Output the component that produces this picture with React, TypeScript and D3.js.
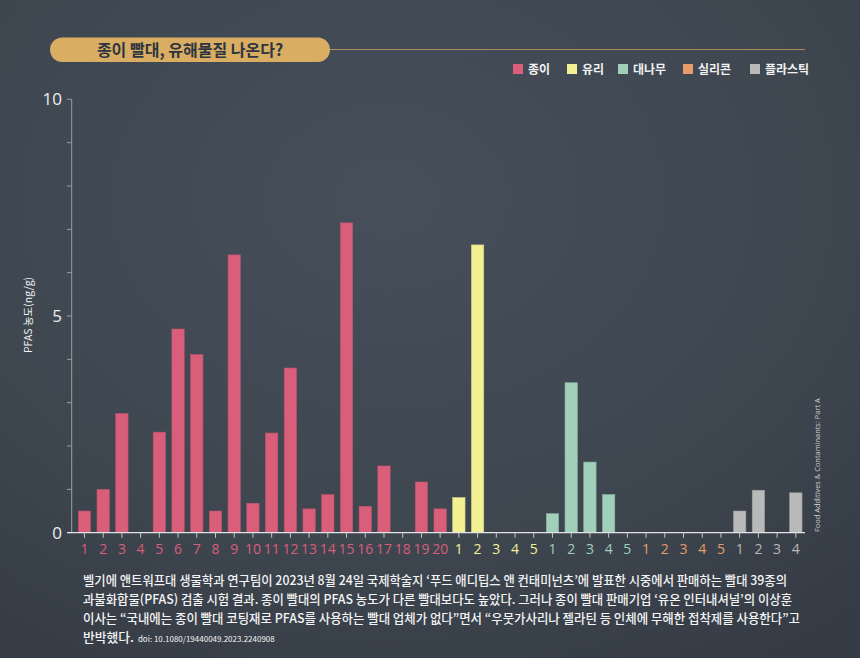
import React from 'react';
import * as d3 from 'd3';

const groupNames = ['종이', '유리', '대나무', '실리콘', '플라스틱'];
const groupColors = ['#d95e79', '#f4f094', '#a1cfb9', '#e99b67', '#b8b9b9'];
const paperValues = [0.5, 1.0, 2.75, 0, 2.32, 4.7, 4.11, 0.5, 6.41, 0.68, 2.3, 3.8, 0.55, 0.88, 7.15, 0.61, 1.54, 0, 1.17, 0.55];
const glassValues = [0.81, 6.64, 0, 0, 0];
const bambooValues = [0.44, 3.46, 1.63, 0.88, 0];
const siliconeValues = [0, 0, 0, 0, 0];
const plasticValues = [0.5, 0.98, 0, 0.92];
const yTicks = [0, 1, 2, 3, 4, 5, 6, 7, 8, 9, 10];
const yLabels = [0, 5, 10];

const titleText = '종이 빨대, 유해물질 나온다?';
const yAxisTitle = 'PFAS 농도(ng/g)';
const sourceText = 'Food Additives & Contaminants: Part A';
const captionLines = [
  '벨기에 앤트워프대 생물학과 연구팀이 2023년 8월 24일 국제학술지 ‘푸드 애디팁스 앤 컨태미넌츠’에 발표한 시중에서 판매하는 빨대 39종의',
  '과불화합물(PFAS) 검출 시험 결과. 종이 빨대의 PFAS 농도가 다른 빨대보다도 높았다. 그러나 종이 빨대 판매기업 ‘유온 인터내셔널’의 이상훈',
  '이사는 “국내에는 종이 빨대 코팅재로 PFAS를 사용하는 빨대 업체가 없다”면서 “우뭇가사리나 젤라틴 등 인체에 무해한 접착제를 사용한다”고',
];
const captionWidths = [704, 709, 717];
const captionLast = '반박했다.';
const doiText = 'doi: 10.1080/19440049.2023.2240908';

const groups = [paperValues, glassValues, bambooValues, siliconeValues, plasticValues];

interface Datum { key: string; label: string; value: number; group: number; }
const data: Datum[] = [];
groups.forEach((vals, gi) => {
  vals.forEach((v, i) => {
    data.push({ key: `${gi}-${i + 1}`, label: String(i + 1), value: v, group: gi });
  });
});

const W = 860, H = 658;
const numFont = '"Open Sans", "Noto Sans", sans-serif';
const krFont = '"Noto Sans CJK KR", "Noto Sans", sans-serif';

export default function App() {
  const x = d3.scaleBand<string>().domain(data.map(d => d.key)).range([75.1, 805.2]).paddingInner(0.34).paddingOuter(0.17);
  const y = d3.scaleLinear().domain([0, 10]).range([532.7, 99.3]);
  const bw = x.bandwidth();

  const legendX = [513, 567, 618, 683, 750];

  return (
    <svg width={W} height={H} style={{ position: 'absolute', left: 0, top: 0, display: 'block' }}>
      <defs>
        <radialGradient id="bg" cx="0.45" cy="0.3" r="0.85">
          <stop offset="0" stopColor="#464f5a" />
          <stop offset="0.6" stopColor="#3e4650" />
          <stop offset="1" stopColor="#343b44" />
        </radialGradient>
      </defs>
      <rect width={W} height={H} fill="url(#bg)" />

      {/* title */}
      <line x1={320} x2={805} y1={49.5} y2={49.5} stroke="#a48c5c" strokeWidth={1.2} />
      <rect x={50} y={37.5} width={280} height={24.5} rx={12.25} fill="#d9ae63" />
      <text x={190} y={55.8} textAnchor="middle" fontFamily={krFont} fontWeight={700} fontSize={16} fill="#2e3540">{titleText}</text>

      {/* legend */}
      {groupNames.map((g, i) => (
        <g key={g}>
          <rect x={legendX[i]} y={64} width={10} height={10} fill={groupColors[i]} />
          <text x={legendX[i] + 15} y={73.5} fontFamily={krFont} fontWeight={700} fontSize={12} fill="#f2f2f2">{g}</text>
        </g>
      ))}

      {/* y axis */}
      <line x1={71.7} x2={71.7} y1={y(10)} y2={y(0)} stroke="#9a9fa6" strokeWidth={1} />
      {yTicks.map(t => (
        <line key={t} x1={67} x2={71.7} y1={y(t)} y2={y(t)} stroke="#9a9fa6" strokeWidth={1} />
      ))}
      {yLabels.map(t => (
        <text key={t} x={62} y={y(t) + 6} textAnchor="end" fontFamily={numFont} fontSize={17} fontWeight={500} fill="#eeeeee">{t}</text>
      ))}
      <text transform={`translate(32,${315}) rotate(-90)`} textAnchor="middle" fontFamily={krFont} fontSize={10.5} fill="#eeeeee">{yAxisTitle}</text>

      {/* bars */}
      {data.filter(d => d.value > 0).map(d => (
        <rect key={d.key} x={x(d.key)} y={y(d.value)} width={bw} height={y(0) - y(d.value)} fill={groupColors[d.group]} stroke={d3.color(groupColors[d.group])!.darker(0.4).toString()} strokeWidth={0.6} />
      ))}

      {/* x axis */}
      <line x1={67} x2={805} y1={y(0)} y2={y(0)} stroke="#e4e4e4" strokeWidth={1.2} />
      {data.map(d => (
        <g key={d.key}>
          <line x1={x(d.key)! + bw / 2} x2={x(d.key)! + bw / 2} y1={y(0)} y2={y(0) + 5} stroke="#c8c8c8" strokeWidth={1} />
          <text x={x(d.key)! + bw / 2} y={554} textAnchor="middle" fontFamily={numFont} fontSize={14} fill={groupColors[d.group]}>{d.label}</text>
        </g>
      ))}

      {/* source */}
      <text transform="translate(820,532) rotate(-90)" fontFamily={numFont} fontSize={7.45} fill="#d0d0d0">{sourceText}</text>

      {/* caption */}
      {captionLines.map((l, i) => (
        <text key={i} x={83} y={585 + i * 19} fontFamily={krFont} fontWeight={500} fontSize={12.8} fill="#f4f4f4" textLength={captionWidths[i]} lengthAdjust="spacingAndGlyphs">{l}</text>
      ))}
      <text x={83} y={642} fontFamily={krFont} fontWeight={500} fontSize={12.8} fill="#f4f4f4">
        {captionLast}
        <tspan fontSize={8} fontWeight={400} dx={4}>{doiText}</tspan>
      </text>
    </svg>
  );
}
